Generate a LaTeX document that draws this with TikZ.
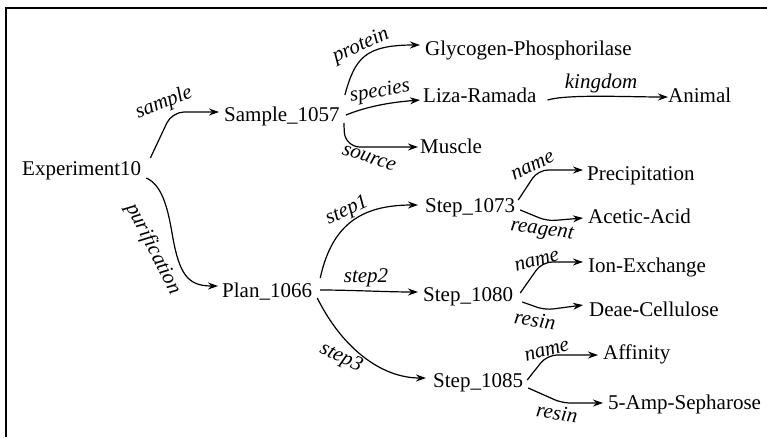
\documentclass[tikz,border=0pt]{standalone}
\usepackage{fontspec}
\setmainfont{Liberation Serif}
\usetikzlibrary{arrows.meta,calc}
\tikzset{
  nd/.style={anchor=base west, inner sep=0pt, text height=14pt, text depth=5pt, font=\fontsize{21}{25}\selectfont},
  lbl/.style={inner sep=0pt, font=\fontsize{21}{25}\selectfont\itshape},
  edge/.style={line width=1.2pt, -{Stealth[length=10pt,width=7pt]}},
}
\begin{document}
\begin{tikzpicture}[x=1pt,y=-1pt]
\useasboundingbox (0,0) rectangle (767,437);
\draw[line width=2.7pt] (6,437) -- (6,8) -- (767,8);

\node[nd] (exp) at (22,175) {Experiment10};
\node[nd] (sample) at (224,121) {Sample\_1057};
\node[nd] (glyco) at (425,55) {Glycogen-Phosphorilase};
\node[nd] (liza) at (423,102) {Liza-Ramada};
\node[nd] (animal) at (668,102) {Animal};
\node[nd] (muscle) at (420,153) {Muscle};
\node[nd] (plan) at (222,297) {Plan\_1066};
\node[nd] (s1073) at (425,212) {Step\_1073};
\node[nd] (precip) at (587,180) {Precipitation};
\node[nd] (acetic) at (588,223) {Acetic-Acid};
\node[nd] (s1080) at (423,301) {Step\_1080};
\node[nd] (ion) at (588,272) {Ion-Exchange};
\node[nd] (deae) at (589,316) {Deae-Cellulose};
\node[nd] (s1085) at (433,387) {Step\_1085};
\node[nd] (affinity) at (603,359) {Affinity};
\node[nd] (amp) at (608,409) {5-Amp-Sepharose};

% edges
\draw[edge, rounded corners=12pt] ($(exp.east)+(9,-12.5)$) -- ($(sample.west)+(-52,-4.5)$) -- ($(sample.west)+(-5,-4.5)$);
\draw[edge] ($(exp.east)+(5,7.5)$) .. controls +(15,7) and +(-5,-30) .. ($(exp.east)+(31,64.5)$)
   .. controls +(7,40) and +(-30,0) .. ($(plan.west)+(-4,-6.5)$);
\draw[edge] ($(sample.east)+(5,-21.5)$) .. controls +(10,-37) and +(-55,0) .. ($(glyco.west)+(-5,-5.5)$);
\draw[edge] ($(sample.east)+(6,-1.5)$) .. controls +(25,-10) and +(-25,2) .. ($(liza.west)+(-3,2.5)$);
\draw[edge, rounded corners=15pt] ($(sample.east)+(4,6.5)$) -- ($(muscle.west)+(-75,-1.5)$) -- ($(muscle.west)+(-2,-1.5)$);
\draw[edge] ($(liza.east)+(11,2.5)$) .. controls +(20,-6) and +(-40,0) .. ($(animal.west)+(0,-0.5)$);
\draw[edge] ($(plan.east)+(8,-14.5)$) .. controls +(12,-55) and +(-55,0) .. ($(s1073.west)+(-7,-2.5)$);
\draw[edge] ($(plan.east)+(8,-2.5)$) .. controls +(30,0) and +(-30,0) .. ($(s1080.west)+(-5,-4.5)$);
\draw[edge] ($(plan.east)+(5,5.5)$) .. controls +(25,50) and +(-45,0) .. ($(s1085.west)+(-7,-4.5)$);
\draw[edge, rounded corners=10pt] ($(s1073.east)+(3,-7.5)$) -- ($(precip.west)+(-49,-5.5)$) -- ($(precip.west)+(-4,-5.5)$);
\draw[edge, rounded corners=8pt] ($(s1073.east)+(5,2.5)$) -- ($(acetic.west)+(-41,2.5)$) -- ($(acetic.west)+(-5,-0.5)$);
\draw[edge, rounded corners=10pt] ($(s1080.east)+(7,-3.5)$) -- ($(ion.west)+(-46,-5.5)$) -- ($(ion.west)+(-5,-5.5)$);
\draw[edge, rounded corners=8pt] ($(s1080.east)+(9,5.5)$) -- ($(deae.west)+(-44,-1.5)$) -- ($(deae.west)+(-6,-6.5)$);
\draw[edge, rounded corners=10pt] ($(s1085.east)+(4,-2.5)$) -- ($(affinity.west)+(-56,0.5)$) -- ($(affinity.west)+(-5,0.5)$);
\draw[edge, rounded corners=8pt] ($(s1085.east)+(5,5.5)$) -- ($(amp.west)+(-46,-1.5)$) -- ($(amp.west)+(-5,-1.5)$);

% labels
\node[lbl, rotate=22] (l1) at (164,103) {sample};
\node[lbl, rotate=-63] (l2) at (153,249) {purification};
\node[lbl, rotate=25] (l3) at (361,46) {protein};
\node[lbl, rotate=10] (l4) at (380,92) {species};
\node[lbl, rotate=-18] (l5) at (369,158) {source};
\node[lbl] (l6) at (601,83) {kingdom};
\node[lbl, rotate=25] (l7) at (347,211) {step1};
\node[lbl] (l8) at (366,278) {step2};
\node[lbl, rotate=-25] (l9) at (341,358) {step3};
\node[lbl, rotate=25] (l10) at (533,166) {name};
\node[lbl, rotate=-8] (l11) at (542,231) {reagent};
\node[lbl, rotate=15] (l12) at (537,261) {name};
\node[lbl, rotate=-8] (l13) at (535,320) {resin};
\node[lbl, rotate=15] (l14) at (547,351) {name};
\node[lbl, rotate=-8] (l15) at (557,413) {resin};
\end{tikzpicture}
\end{document}
